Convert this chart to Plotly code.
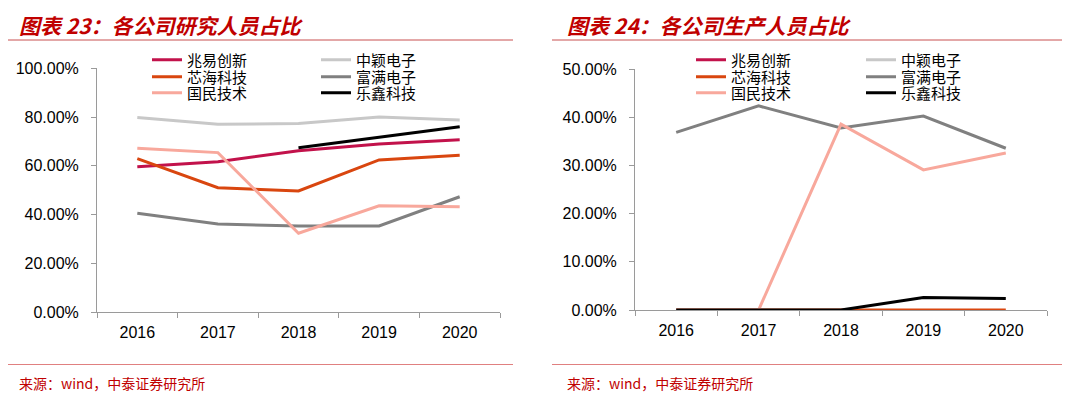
import plotly.graph_objects as go

years = ["2016", "2017", "2018", "2019", "2020"]

# 研究人员占比
rd_zhaoyi = [0.596, 0.617, 0.662, 0.689, 0.707]
rd_zhongying = [0.798, 0.770, 0.774, 0.800, 0.788]
rd_xinhai = [0.629, 0.510, 0.497, 0.624, 0.643]
rd_fuman = [0.405, 0.361, 0.353, 0.353, 0.473]
rd_guomin = [0.672, 0.654, 0.323, 0.436, 0.432]
rd_lexin = [None, None, 0.674, 0.717, 0.760]

# 生产人员占比
pr_zhaoyi = [None, None, None, None, None]
pr_zhongying = [None, None, None, None, None]
pr_xinhai = [0.0, 0.0, 0.0, 0.0, 0.0]
pr_fuman = [0.369, 0.424, 0.378, 0.403, 0.336]
pr_guomin = [0.0, 0.0, 0.386, 0.291, 0.326]
pr_lexin = [0.0, 0.0, 0.0, 0.026, 0.024]

names = ["兆易创新", "中颖电子", "芯海科技", "富满电子", "国民技术", "乐鑫科技"]
colors = {"兆易创新": "#c2124b", "中颖电子": "#c8c8c8", "芯海科技": "#d9460f",
          "富满电子": "#808080", "国民技术": "#f8a89c", "乐鑫科技": "#000000"}

rd = {"兆易创新": rd_zhaoyi, "中颖电子": rd_zhongying, "芯海科技": rd_xinhai,
      "富满电子": rd_fuman, "国民技术": rd_guomin, "乐鑫科技": rd_lexin}
pr = {"兆易创新": pr_zhaoyi, "中颖电子": pr_zhongying, "芯海科技": pr_xinhai,
      "富满电子": pr_fuman, "国民技术": pr_guomin, "乐鑫科技": pr_lexin}

# The page body has an 8px default margin; size the figure so the page fits the window.
OFF = 8
W, H = 1080 - OFF, 397 - OFF
CJK = "Noto Sans CJK SC"
ARIAL = "Liberation Sans, Arial"


def fx(px):
    return max(0.0, (px - OFF) / W)


def fy(py):
    return 1 - (py - OFF) / H


# legend slot positions (pixel: right end of line sample, row centre)
left_cols = [183, 352]
right_cols = [727, 897]
rows = [60, 77, 93]

fig = go.Figure()
layout_legends = {}
leg_idx = 0
for data, cols, xa, ya in [(rd, left_cols, "x", "y"), (pr, right_cols, "x2", "y2")]:
    for i, n in enumerate(names):
        leg_idx += 1
        key = "legend" if leg_idx == 1 else "legend%d" % leg_idx
        col = i % 2
        row = i // 2
        fig.add_trace(go.Scatter(x=years, y=data[n], name=n, mode="lines",
                                 line=dict(color=colors[n], width=3),
                                 xaxis=xa, yaxis=ya, legend=key))
        layout_legends[key] = dict(
            x=fx(cols[col] - 36), y=fy(rows[row]), xanchor="left", yanchor="middle",
            font=dict(family=CJK, size=15, color="#000000"),
            bgcolor="rgba(0,0,0,0)", borderwidth=0, itemwidth=30, visible=True,
        )

axis_common = dict(showgrid=False, zeroline=False, showline=True, linecolor="#9a9a9a",
                   linewidth=1, ticks="outside", tickcolor="#9a9a9a", ticklen=5,
                   automargin=False,
                   tickfont=dict(family=ARIAL, size=16, color="#000000"))

fig.update_layout(
    width=W, height=H, margin=dict(l=0, r=0, t=0, b=0, autoexpand=False),
    paper_bgcolor="white", plot_bgcolor="white", showlegend=True,
    xaxis=dict(domain=[fx(97), fx(500)], type="category", tickson="boundaries",
               range=[-0.5, 4.5], anchor="y", ticklabelstandoff=6, **axis_common),
    yaxis=dict(domain=[fy(312), fy(68.3)], range=[0, 1.0], dtick=0.2, tickformat=".2%",
               anchor="x", ticklabelstandoff=9, **axis_common),
    xaxis2=dict(domain=[fx(635), fx(1047)], type="category", tickson="boundaries",
                range=[-0.5, 4.5], anchor="y2", ticklabelstandoff=6, **axis_common),
    yaxis2=dict(domain=[fy(310), fy(69.3)], range=[0, 0.5], dtick=0.1, tickformat=".2%",
                anchor="x2", ticklabelstandoff=9, **axis_common),
    **layout_legends,
)

shapes = []
annotations = []
panels = [
    (5, 513, 17, "图表 23：各公司研究人员占比"),
    (552, 1062, 565, "图表 24：各公司生产人员占比"),
]
for x0, x1, tx, title in panels:
    shapes.append(dict(type="line", xref="paper", yref="paper", x0=fx(x0), x1=fx(x1),
                       y0=fy(6), y1=fy(6), line=dict(color="#c00000", width=3)))
    shapes.append(dict(type="line", xref="paper", yref="paper", x0=fx(x0), x1=fx(x1),
                       y0=fy(40), y1=fy(40), line=dict(color="#c85050", width=1)))
    shapes.append(dict(type="line", xref="paper", yref="paper", x0=fx(x0), x1=fx(x1),
                       y0=fy(364.5), y1=fy(364.5), line=dict(color="#e08080", width=1)))
    annotations.append(dict(text="<b><i>" + title + "</i></b>", xref="paper", yref="paper",
                            x=fx(tx), y=fy(25), xanchor="left", yanchor="middle",
                            showarrow=False,
                            font=dict(family=CJK, size=21, color="#c00000")))
    annotations.append(dict(text="来源：wind，中泰证券研究所", xref="paper", yref="paper",
                            x=fx(tx), y=fy(383), xanchor="left", yanchor="middle",
                            showarrow=False,
                            font=dict(family=CJK, size=14, color="#c00000")))

fig.update_layout(shapes=shapes, annotations=annotations)

fig.write_html("out.html")
